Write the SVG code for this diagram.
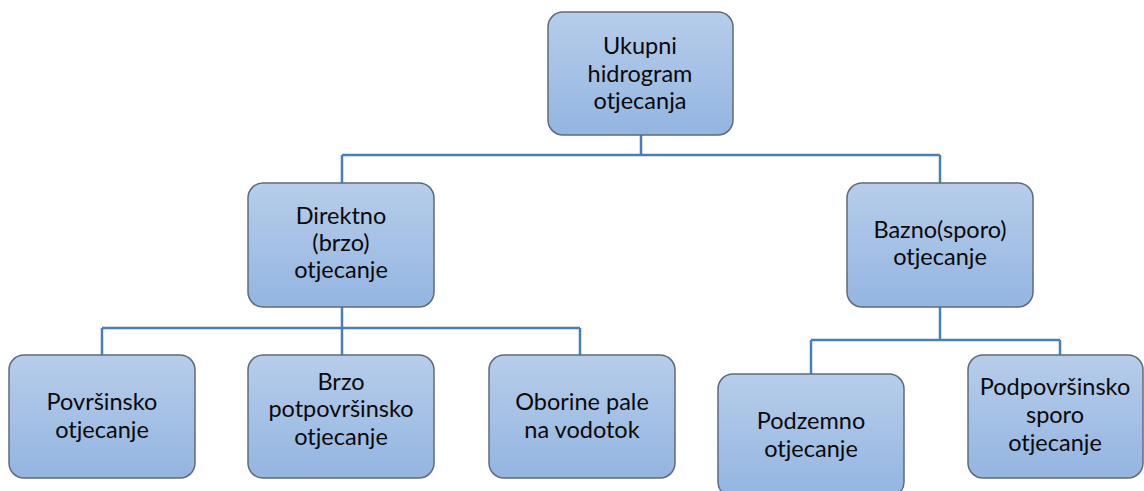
<svg xmlns="http://www.w3.org/2000/svg" width="1144" height="491" viewBox="0 0 1144 491">
<defs>
<linearGradient id="g" x1="0" y1="0" x2="0" y2="1">
<stop offset="0" stop-color="#b7cdea"/>
<stop offset="1" stop-color="#93b5e1"/>
</linearGradient>
<style>
.box{fill:url(#g);stroke:#5f6b7a;stroke-width:1.5}
.t{font-family:Lato,"Open Sans",sans-serif;font-size:23.5px;fill:#0a0a0a;text-anchor:middle}
.c{fill:none;stroke:#4a7ebb;stroke-width:2.5}
</style>
</defs>
<rect width="1144" height="491" fill="#fff"/>
<g id="connectors">
<path class="c" d="M641 135V155M342 155H940M342 155V183M940 155V183"/>
<path class="c" d="M342 307V328M102 328H580M102 328V355M342 328V355M580 328V355"/>
<path class="c" d="M940 307V340M811 340H1060M811 340V374M1060 340V355"/>
</g>
<g id="n1"><rect class="box" x="548" y="12" width="185" height="123" rx="15"/>
<text class="t" x="640" y="54">Ukupni</text><text class="t" x="640" y="82">hidrogram</text><text class="t" x="640" y="109">otjecanja</text></g>
<g id="n2"><rect class="box" x="248" y="183" width="186" height="124" rx="15"/>
<text class="t" x="341" y="224">Direktno</text><text class="t" x="341" y="251">(brzo)</text><text class="t" x="341" y="278">otjecanje</text></g>
<g id="n3"><rect class="box" x="847" y="183" width="186" height="124" rx="15"/>
<text class="t" x="940" y="238">Bazno(sporo)</text><text class="t" x="940" y="265">otjecanje</text></g>
<g id="n4"><rect class="box" x="9" y="355" width="186" height="123" rx="15"/>
<text class="t" x="102" y="410">Površinsko</text><text class="t" x="102" y="438">otjecanje</text></g>
<g id="n5"><rect class="box" x="248" y="355" width="186" height="123" rx="15"/>
<text class="t" x="341" y="390">Brzo</text><text class="t" x="341" y="417">potpovršinsko</text><text class="t" x="341" y="445">otjecanje</text></g>
<g id="n6"><rect class="box" x="489" y="355" width="186" height="123" rx="15"/>
<text class="t" x="582" y="410">Oborine pale</text><text class="t" x="582" y="438">na vodotok</text></g>
<g id="n7"><rect class="box" x="718" y="374" width="186" height="123" rx="15"/>
<text class="t" x="811" y="429">Podzemno</text><text class="t" x="811" y="457">otjecanje</text></g>
<g id="n8"><rect class="box" x="968" y="355" width="175" height="123" rx="15"/>
<text class="t" x="1055" y="395">Podpovršinsko</text><text class="t" x="1055" y="423">sporo</text><text class="t" x="1055" y="451">otjecanje</text></g>
</svg>
